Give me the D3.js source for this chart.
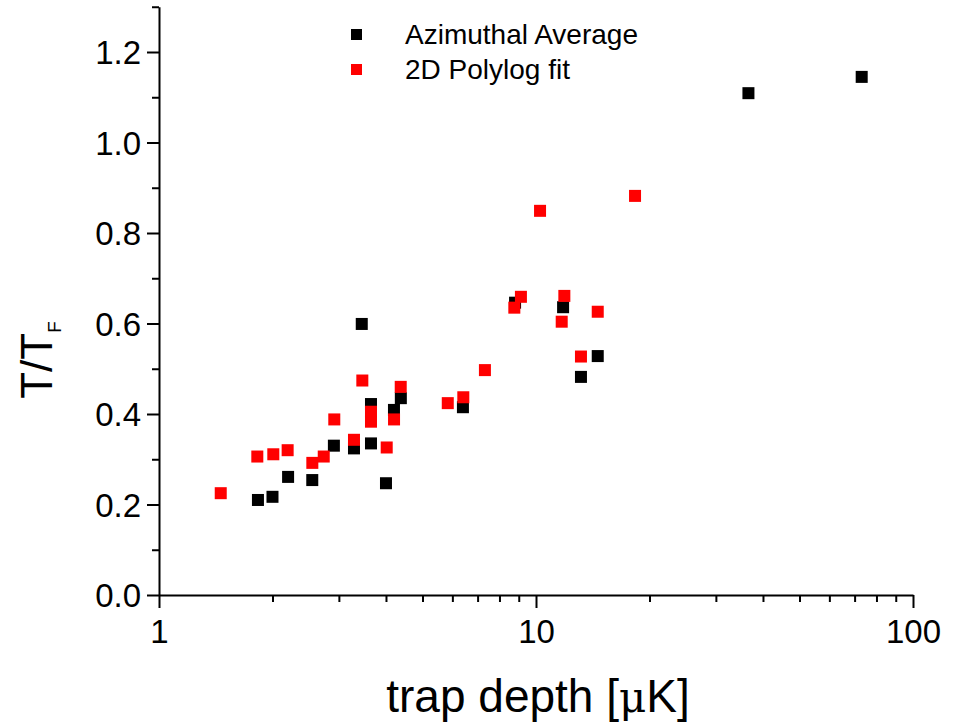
<!DOCTYPE html>
<html>
<head>
<meta charset="utf-8">
<script src="https://cdn.jsdelivr.net/npm/d3@7"></script>
<style>
  body { margin: 0; background: #fff; }
  text { font-family: Arial, "Liberation Sans", sans-serif; fill: #000; }
</style>
</head>
<body>
<svg id="chart" width="963" height="727"></svg>
<script>
// trap depth [uK] vs T/TF
let azimuthalX = [1.83, 2.0, 2.2, 2.55, 2.91, 3.29, 3.45, 3.65, 3.65, 4.0, 4.2, 4.38, 6.4, 8.8, 11.8, 13.16, 14.58, 36.6, 73.1];
let azimuthalY = [0.210, 0.217, 0.261, 0.254, 0.330, 0.324, 0.599, 0.335, 0.422, 0.247, 0.409, 0.435, 0.415, 0.646, 0.636, 0.482, 0.528, 1.109, 1.145];

let polylogX = [1.458, 1.823, 2.01, 2.194, 2.551, 2.735, 2.917, 3.29, 3.462, 3.65, 3.65, 4.018, 4.202, 4.377, 5.834, 6.415, 7.32, 8.76, 9.12, 10.25, 11.70, 11.89, 13.16, 14.58, 18.31];
let polylogY = [0.225, 0.306, 0.311, 0.320, 0.292, 0.306, 0.388, 0.343, 0.474, 0.405, 0.383, 0.326, 0.388, 0.460, 0.424, 0.437, 0.497, 0.635, 0.659, 0.849, 0.604, 0.661, 0.527, 0.626, 0.882];

let yTicks = [0, 0.2, 0.4, 0.6, 0.8, 1.0, 1.2];
let yMinor = [0.1, 0.3, 0.5, 0.7, 0.9, 1.1, 1.3];
let xTicks = [1, 10, 100];

let seriesNames = ["Azimuthal Average", "2D Polylog fit"];
let seriesColors = ["#000000", "#ff0000"];

let svg = d3.select("#chart");

let x = d3.scaleLog().domain([1, 100]).range([159, 913]);
let y = d3.scaleLinear().domain([0, 1.3]).range([595, 6.75]);

let xMinor = [];
[1, 10].forEach(d => {
	for (let k = 2; k <= 9; k++) xMinor.push(d * k);
});

// minor ticks first so the major axis is drawn over them
svg.append("g")
	.attr("transform", "translate(0,595)")
	.call(d3.axisBottom(x).tickValues(xMinor).tickSize(7).tickFormat(""))
	.call(g => g.select(".domain").remove());
svg.append("g")
	.attr("transform", "translate(159,0)")
	.call(d3.axisLeft(y).tickValues(yMinor).tickSize(7).tickFormat(""))
	.call(g => g.select(".domain").remove());

let xAxis = svg.append("g")
	.attr("transform", "translate(0,595)")
	.call(d3.axisBottom(x).tickValues(xTicks).tickSize(13).tickSizeOuter(0).tickPadding(11).tickFormat(d3.format("d")));
let yAxis = svg.append("g")
	.attr("transform", "translate(159,0)")
	.call(d3.axisLeft(y).tickValues(yTicks).tickSize(12).tickSizeOuter(0).tickPadding(6).tickFormat(d3.format(".1f")));

svg.selectAll(".tick line").attr("stroke", "#000").attr("stroke-width", 2);
svg.selectAll(".domain").attr("stroke", "#000").attr("stroke-width", 2);
svg.selectAll(".tick text")
	.style("font-size", "33px")
	.style("font-family", "Arial, 'Liberation Sans', sans-serif")
	.attr("fill", "#000");
xAxis.selectAll(".tick text").attr("dy", "0.72em");
yAxis.selectAll(".tick text").attr("dy", "0.36em");

// markers
let size = 12;
let plot = svg.append("g");
plot.selectAll(".az")
	.data(azimuthalX.map((d, i) => [d, azimuthalY[i]]))
	.enter().append("rect")
	.attr("class", "az")
	.attr("x", d => x(d[0]) - size / 2)
	.attr("y", d => y(d[1]) - size / 2)
	.attr("width", size)
	.attr("height", size)
	.attr("fill", seriesColors[0]);
plot.selectAll(".pl")
	.data(polylogX.map((d, i) => [d, polylogY[i]]))
	.enter().append("rect")
	.attr("class", "pl")
	.attr("x", d => x(d[0]) - size / 2)
	.attr("y", d => y(d[1]) - size / 2)
	.attr("width", size)
	.attr("height", size)
	.attr("fill", seriesColors[1]);

// legend
let legend = svg.append("g").selectAll("g")
	.data(seriesNames)
	.enter().append("g")
	.attr("transform", (d, i) => "translate(356," + (34 + i * 35) + ")");
legend.append("rect")
	.attr("x", -5).attr("y", -5)
	.attr("width", 11).attr("height", 11)
	.attr("fill", (d, i) => seriesColors[i]);
legend.append("text")
	.attr("x", 49)
	.attr("dy", "0.36em")
	.style("font-size", "28px")
	.text(d => d);

// axis titles
svg.append("text")
	.attr("x", 538).attr("y", 712)
	.attr("text-anchor", "middle")
	.style("font-size", "46px")
	.html('trap depth [<tspan style="font-family: \'DejaVu Serif\', serif; font-size: 42px">μ</tspan>K]');

let yTitle = svg.append("text")
	.attr("transform", "translate(52,360) rotate(-90)")
	.attr("text-anchor", "middle")
	.style("font-size", "44px");
yTitle.append("tspan").text("T/T");
yTitle.append("tspan").attr("dy", 9).style("font-size", "19px").text("F");
</script>
</body>
</html>
